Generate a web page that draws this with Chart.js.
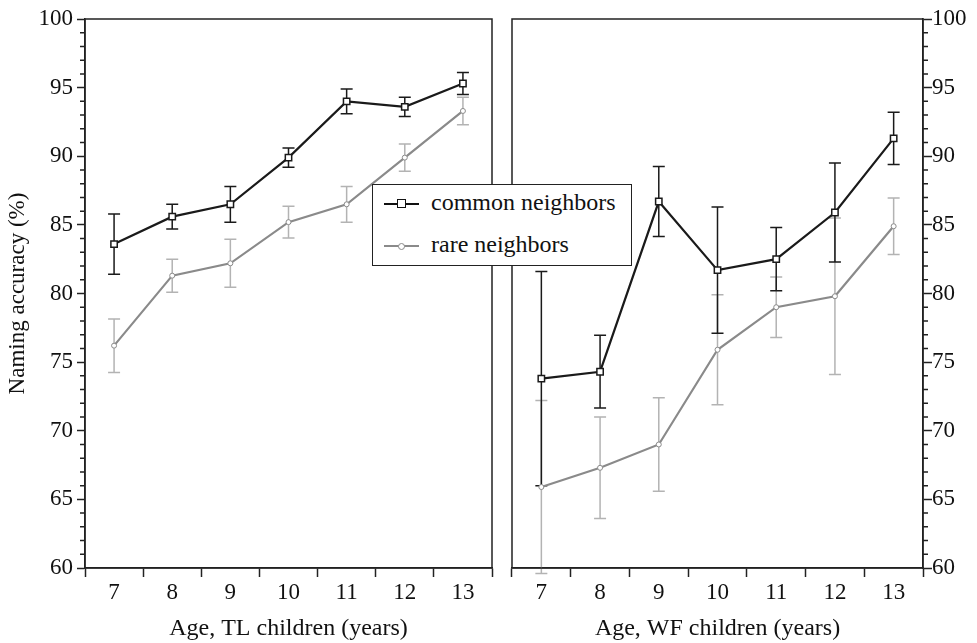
<!DOCTYPE html>
<html>
<head>
<meta charset="utf-8">
<script src="https://cdn.jsdelivr.net/npm/chart.js@4"></script>
<style>
  body { margin: 0; background: #fff; }
  #wrap { position: relative; width: 977px; height: 643px; overflow: hidden; }
  #leftPanel { position: absolute; left: 0; top: 0; }
  #rightPanel { position: absolute; left: 500px; top: 0; }
  #legend {
    position: absolute; left: 372px; top: 184px; width: 258px; height: 80px;
    border: 1.5px solid #222; background: #fff;
    font-family: "Liberation Serif", "DejaVu Serif", serif; font-size: 24px; color: #111;
  }
  .row { position: absolute; left: 0; height: 30px; width: 100%; }
  .row .ln { position: absolute; left: 11px; top: 14px; width: 35px; height: 2px; }
  .row .mk { position: absolute; }
  .row .txt { position: absolute; left: 58px; top: 0px; white-space: nowrap; }
</style>
</head>
<body>
<div id="wrap">
  <canvas id="leftPanel" width="500" height="643"></canvas>
  <canvas id="rightPanel" width="477" height="643"></canvas>
  <div id="legend">
    <div class="row" style="top:4px">
      <span class="ln" style="background:#111"></span>
      <span class="mk" style="left:24px;top:10px;width:7px;height:7px;border:1.5px solid #111;background:#fff"></span>
      <span class="txt">common neighbors</span>
    </div>
    <div class="row" style="top:46px">
      <span class="ln" style="background:#8a8a8a"></span>
      <span class="mk" style="left:25px;top:12px;width:5px;height:5px;border:1.5px solid #8a8a8a;border-radius:50%;background:#fff"></span>
      <span class="txt">rare neighbors</span>
    </div>
  </div>
</div>
<script>
const ages = ["7", "8", "9", "10", "11", "12", "13"];

// TL children
const tlCommon    = [83.6, 85.6, 86.5, 89.9, 94.0, 93.6, 95.3];
const tlCommonErr = [2.2, 0.9, 1.3, 0.7, 0.9, 0.7, 0.8];
const tlRare      = [76.2, 81.3, 82.2, 85.2, 86.5, 89.9, 93.3];
const tlRareErr   = [1.95, 1.2, 1.75, 1.15, 1.3, 1.0, 1.0];

// WF children
const wfCommon    = [73.8, 74.3, 86.7, 81.7, 82.5, 85.9, 91.3];
const wfCommonErr = [7.8, 2.65, 2.55, 4.6, 2.3, 3.6, 1.9];
const wfRare      = [65.9, 67.3, 69.0, 75.9, 79.0, 79.8, 84.9];
const wfRareErr   = [6.3, 3.7, 3.4, 4.0, 2.2, 5.7, 2.05];

const SERIF = "'Liberation Serif', 'DejaVu Serif', serif";
const INK = "#1a1a1a";
const GREY = "#8a8a8a";
const GREY_ERR = "#b3b3b3";

// error bars + minor ticks + frame
const panelDecor = {
  id: "panelDecor",
  beforeDatasetsDraw(chart) {
    const ctx = chart.ctx;
    const ys = chart.scales.y;
    chart.data.datasets.forEach((ds, di) => {
      const meta = chart.getDatasetMeta(di);
      ctx.save();
      ctx.strokeStyle = ds.errColor;
      ctx.lineWidth = 1.5;
      meta.data.forEach((pt, i) => {
        const hi = ys.getPixelForValue(ds.data[i] + ds.errors[i]);
        const lo = ys.getPixelForValue(ds.data[i] - ds.errors[i]);
        ctx.beginPath();
        ctx.moveTo(pt.x, hi); ctx.lineTo(pt.x, lo);
        ctx.moveTo(pt.x - 6, hi); ctx.lineTo(pt.x + 6, hi);
        ctx.moveTo(pt.x - 6, lo); ctx.lineTo(pt.x + 6, lo);
        ctx.stroke();
      });
      ctx.restore();
    });
  },
  afterDraw(chart) {
    const ctx = chart.ctx;
    const a = chart.chartArea;
    const ys = chart.scales.y;
    const right = ys.position === "right";
    ctx.save();
    ctx.strokeStyle = "#222";
    ctx.lineWidth = 1.5;
    ctx.strokeRect(a.left, a.top, a.right - a.left, a.bottom - a.top);
    ctx.beginPath();
    for (let v = 60; v <= 100; v++) {
      if (v % 5 === 0) continue;
      const y = ys.getPixelForValue(v);
      const x0 = right ? a.right : a.left;
      ctx.moveTo(x0, y);
      ctx.lineTo(right ? x0 + 5 : x0 - 5, y);
    }
    ctx.stroke();
    ctx.restore();
  }
};

function makePanel(id, common, commonErr, rare, rareErr, xTitle, side) {
  const isLeft = side === "left";
  return new Chart(document.getElementById(id), {
    type: "line",
    data: {
      labels: ages,
      datasets: [
        {
          label: "rare neighbors",
          data: rare,
          errors: rareErr,
          errColor: GREY_ERR,
          borderColor: GREY,
          borderWidth: 2.2,
          pointStyle: "circle",
          pointRadius: 2.5,
          pointBorderWidth: 1,
          pointBorderColor: GREY,
          pointBackgroundColor: "#fff",
          tension: 0
        },
        {
          label: "common neighbors",
          data: common,
          errors: commonErr,
          errColor: INK,
          borderColor: INK,
          borderWidth: 2.2,
          pointStyle: "rect",
          pointRadius: 4.5,
          pointBorderWidth: 1.5,
          pointBorderColor: INK,
          pointBackgroundColor: "#fff",
          tension: 0
        }
      ]
    },
    options: {
      responsive: false,
      animation: false,
      events: [],
      layout: {
        padding: isLeft ? { top: 19, right: 8, left: 0, bottom: 0 } : { top: 19, right: 0, left: 12, bottom: 0 }
      },
      plugins: { legend: { display: false }, tooltip: { enabled: false } },
      scales: {
        x: {
          type: "category",
          offset: true,
          afterFit: s => { s.height = 75; },
          grid: {
            offset: true, drawOnChartArea: false, drawTicks: true,
            tickLength: 9, tickWidth: 1.5, tickColor: "#222"
          },
          border: { display: true, color: "#222", width: 1.5 },
          ticks: { color: "#111", font: { family: SERIF, size: 23 }, padding: 2, maxRotation: 0 },
          title: {
            display: true, text: xTitle, color: "#111",
            font: { family: SERIF, size: 24 }, padding: { top: 0, bottom: 0 }
          }
        },
        y: {
          position: side,
          min: 60, max: 100,
          afterFit: s => { s.width = isLeft ? 85 : 54; },
          grid: {
            drawOnChartArea: false, drawTicks: true,
            tickLength: isLeft ? 8 : 9, tickWidth: 1.5,
            tickColor: ctx => (ctx.tick && ctx.tick.value % 5 === 0) ? "#222" : "rgba(0,0,0,0)"
          },
          border: { display: true, color: "#222", width: 1.5 },
          ticks: {
            stepSize: 1,
            autoSkip: false,
            color: "#111",
            padding: isLeft ? 4 : 0,
            font: { family: SERIF, size: 23 },
            callback: v => (v % 5 === 0 ? String(v) : "")
          },
          title: {
            display: isLeft, text: "Naming accuracy (%)", color: "#111",
            font: { family: SERIF, size: 23 }, padding: { top: 4, bottom: 0 }
          }
        }
      }
    },
    plugins: [panelDecor]
  });
}

makePanel("leftPanel", tlCommon, tlCommonErr, tlRare, tlRareErr, "Age, TL children (years)", "left");
makePanel("rightPanel", wfCommon, wfCommonErr, wfRare, wfRareErr, "Age, WF children (years)", "right");
</script>
</body>
</html>
